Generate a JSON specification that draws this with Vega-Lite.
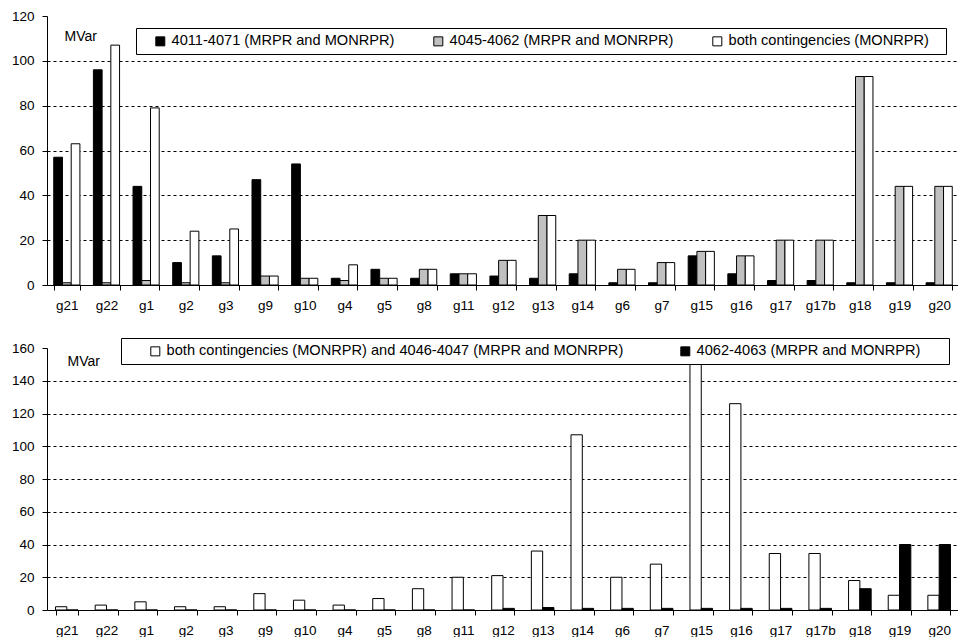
{
  "$schema": "https://vega.github.io/schema/vega-lite/v6.json",
  "padding": {"left": 11, "top": 9, "right": 0, "bottom": 0},
  "spacing": 25,
  "background": "#ffffff",
  "datasets": {
    "top": [
      {"g":"g21","s":"4011-4071 (MRPR and MONRPR)","v":57},{"g":"g21","s":"4045-4062 (MRPR and MONRPR)","v":1},{"g":"g21","s":"both contingencies (MONRPR)","v":63},
      {"g":"g22","s":"4011-4071 (MRPR and MONRPR)","v":96},{"g":"g22","s":"4045-4062 (MRPR and MONRPR)","v":1},{"g":"g22","s":"both contingencies (MONRPR)","v":107},
      {"g":"g1","s":"4011-4071 (MRPR and MONRPR)","v":44},{"g":"g1","s":"4045-4062 (MRPR and MONRPR)","v":2},{"g":"g1","s":"both contingencies (MONRPR)","v":79},
      {"g":"g2","s":"4011-4071 (MRPR and MONRPR)","v":10},{"g":"g2","s":"4045-4062 (MRPR and MONRPR)","v":1},{"g":"g2","s":"both contingencies (MONRPR)","v":24},
      {"g":"g3","s":"4011-4071 (MRPR and MONRPR)","v":13},{"g":"g3","s":"4045-4062 (MRPR and MONRPR)","v":1},{"g":"g3","s":"both contingencies (MONRPR)","v":25},
      {"g":"g9","s":"4011-4071 (MRPR and MONRPR)","v":47},{"g":"g9","s":"4045-4062 (MRPR and MONRPR)","v":4},{"g":"g9","s":"both contingencies (MONRPR)","v":4},
      {"g":"g10","s":"4011-4071 (MRPR and MONRPR)","v":54},{"g":"g10","s":"4045-4062 (MRPR and MONRPR)","v":3},{"g":"g10","s":"both contingencies (MONRPR)","v":3},
      {"g":"g4","s":"4011-4071 (MRPR and MONRPR)","v":3},{"g":"g4","s":"4045-4062 (MRPR and MONRPR)","v":2},{"g":"g4","s":"both contingencies (MONRPR)","v":9},
      {"g":"g5","s":"4011-4071 (MRPR and MONRPR)","v":7},{"g":"g5","s":"4045-4062 (MRPR and MONRPR)","v":3},{"g":"g5","s":"both contingencies (MONRPR)","v":3},
      {"g":"g8","s":"4011-4071 (MRPR and MONRPR)","v":3},{"g":"g8","s":"4045-4062 (MRPR and MONRPR)","v":7},{"g":"g8","s":"both contingencies (MONRPR)","v":7},
      {"g":"g11","s":"4011-4071 (MRPR and MONRPR)","v":5},{"g":"g11","s":"4045-4062 (MRPR and MONRPR)","v":5},{"g":"g11","s":"both contingencies (MONRPR)","v":5},
      {"g":"g12","s":"4011-4071 (MRPR and MONRPR)","v":4},{"g":"g12","s":"4045-4062 (MRPR and MONRPR)","v":11},{"g":"g12","s":"both contingencies (MONRPR)","v":11},
      {"g":"g13","s":"4011-4071 (MRPR and MONRPR)","v":3},{"g":"g13","s":"4045-4062 (MRPR and MONRPR)","v":31},{"g":"g13","s":"both contingencies (MONRPR)","v":31},
      {"g":"g14","s":"4011-4071 (MRPR and MONRPR)","v":5},{"g":"g14","s":"4045-4062 (MRPR and MONRPR)","v":20},{"g":"g14","s":"both contingencies (MONRPR)","v":20},
      {"g":"g6","s":"4011-4071 (MRPR and MONRPR)","v":1},{"g":"g6","s":"4045-4062 (MRPR and MONRPR)","v":7},{"g":"g6","s":"both contingencies (MONRPR)","v":7},
      {"g":"g7","s":"4011-4071 (MRPR and MONRPR)","v":1},{"g":"g7","s":"4045-4062 (MRPR and MONRPR)","v":10},{"g":"g7","s":"both contingencies (MONRPR)","v":10},
      {"g":"g15","s":"4011-4071 (MRPR and MONRPR)","v":13},{"g":"g15","s":"4045-4062 (MRPR and MONRPR)","v":15},{"g":"g15","s":"both contingencies (MONRPR)","v":15},
      {"g":"g16","s":"4011-4071 (MRPR and MONRPR)","v":5},{"g":"g16","s":"4045-4062 (MRPR and MONRPR)","v":13},{"g":"g16","s":"both contingencies (MONRPR)","v":13},
      {"g":"g17","s":"4011-4071 (MRPR and MONRPR)","v":2},{"g":"g17","s":"4045-4062 (MRPR and MONRPR)","v":20},{"g":"g17","s":"both contingencies (MONRPR)","v":20},
      {"g":"g17b","s":"4011-4071 (MRPR and MONRPR)","v":2},{"g":"g17b","s":"4045-4062 (MRPR and MONRPR)","v":20},{"g":"g17b","s":"both contingencies (MONRPR)","v":20},
      {"g":"g18","s":"4011-4071 (MRPR and MONRPR)","v":1},{"g":"g18","s":"4045-4062 (MRPR and MONRPR)","v":93},{"g":"g18","s":"both contingencies (MONRPR)","v":93},
      {"g":"g19","s":"4011-4071 (MRPR and MONRPR)","v":1},{"g":"g19","s":"4045-4062 (MRPR and MONRPR)","v":44},{"g":"g19","s":"both contingencies (MONRPR)","v":44},
      {"g":"g20","s":"4011-4071 (MRPR and MONRPR)","v":1},{"g":"g20","s":"4045-4062 (MRPR and MONRPR)","v":44},{"g":"g20","s":"both contingencies (MONRPR)","v":44}
    ],
    "bottom": [
      {"g":"g21","s":"both contingencies (MONRPR) and 4046-4047 (MRPR and MONRPR)","v":2},{"g":"g21","s":"4062-4063 (MRPR and MONRPR)","v":0},
      {"g":"g22","s":"both contingencies (MONRPR) and 4046-4047 (MRPR and MONRPR)","v":3},{"g":"g22","s":"4062-4063 (MRPR and MONRPR)","v":0},
      {"g":"g1","s":"both contingencies (MONRPR) and 4046-4047 (MRPR and MONRPR)","v":5},{"g":"g1","s":"4062-4063 (MRPR and MONRPR)","v":0},
      {"g":"g2","s":"both contingencies (MONRPR) and 4046-4047 (MRPR and MONRPR)","v":2},{"g":"g2","s":"4062-4063 (MRPR and MONRPR)","v":0},
      {"g":"g3","s":"both contingencies (MONRPR) and 4046-4047 (MRPR and MONRPR)","v":2},{"g":"g3","s":"4062-4063 (MRPR and MONRPR)","v":0},
      {"g":"g9","s":"both contingencies (MONRPR) and 4046-4047 (MRPR and MONRPR)","v":10},{"g":"g9","s":"4062-4063 (MRPR and MONRPR)","v":0},
      {"g":"g10","s":"both contingencies (MONRPR) and 4046-4047 (MRPR and MONRPR)","v":6},{"g":"g10","s":"4062-4063 (MRPR and MONRPR)","v":0},
      {"g":"g4","s":"both contingencies (MONRPR) and 4046-4047 (MRPR and MONRPR)","v":3},{"g":"g4","s":"4062-4063 (MRPR and MONRPR)","v":0},
      {"g":"g5","s":"both contingencies (MONRPR) and 4046-4047 (MRPR and MONRPR)","v":7},{"g":"g5","s":"4062-4063 (MRPR and MONRPR)","v":0},
      {"g":"g8","s":"both contingencies (MONRPR) and 4046-4047 (MRPR and MONRPR)","v":13},{"g":"g8","s":"4062-4063 (MRPR and MONRPR)","v":0},
      {"g":"g11","s":"both contingencies (MONRPR) and 4046-4047 (MRPR and MONRPR)","v":20},{"g":"g11","s":"4062-4063 (MRPR and MONRPR)","v":0},
      {"g":"g12","s":"both contingencies (MONRPR) and 4046-4047 (MRPR and MONRPR)","v":21},{"g":"g12","s":"4062-4063 (MRPR and MONRPR)","v":1},
      {"g":"g13","s":"both contingencies (MONRPR) and 4046-4047 (MRPR and MONRPR)","v":36},{"g":"g13","s":"4062-4063 (MRPR and MONRPR)","v":1.5},
      {"g":"g14","s":"both contingencies (MONRPR) and 4046-4047 (MRPR and MONRPR)","v":107},{"g":"g14","s":"4062-4063 (MRPR and MONRPR)","v":1},
      {"g":"g6","s":"both contingencies (MONRPR) and 4046-4047 (MRPR and MONRPR)","v":20},{"g":"g6","s":"4062-4063 (MRPR and MONRPR)","v":1},
      {"g":"g7","s":"both contingencies (MONRPR) and 4046-4047 (MRPR and MONRPR)","v":28},{"g":"g7","s":"4062-4063 (MRPR and MONRPR)","v":1},
      {"g":"g15","s":"both contingencies (MONRPR) and 4046-4047 (MRPR and MONRPR)","v":150},{"g":"g15","s":"4062-4063 (MRPR and MONRPR)","v":1},
      {"g":"g16","s":"both contingencies (MONRPR) and 4046-4047 (MRPR and MONRPR)","v":126},{"g":"g16","s":"4062-4063 (MRPR and MONRPR)","v":1},
      {"g":"g17","s":"both contingencies (MONRPR) and 4046-4047 (MRPR and MONRPR)","v":34.5},{"g":"g17","s":"4062-4063 (MRPR and MONRPR)","v":1},
      {"g":"g17b","s":"both contingencies (MONRPR) and 4046-4047 (MRPR and MONRPR)","v":34.5},{"g":"g17b","s":"4062-4063 (MRPR and MONRPR)","v":1},
      {"g":"g18","s":"both contingencies (MONRPR) and 4046-4047 (MRPR and MONRPR)","v":18},{"g":"g18","s":"4062-4063 (MRPR and MONRPR)","v":13},
      {"g":"g19","s":"both contingencies (MONRPR) and 4046-4047 (MRPR and MONRPR)","v":9},{"g":"g19","s":"4062-4063 (MRPR and MONRPR)","v":40},
      {"g":"g20","s":"both contingencies (MONRPR) and 4046-4047 (MRPR and MONRPR)","v":9},{"g":"g20","s":"4062-4063 (MRPR and MONRPR)","v":40}
    ]
  },
  "vconcat": [
    {
      "width": 912,
      "height": 269,
      "data": {"name": "top"},
      "mark": {"type": "bar", "stroke": "#000000", "strokeWidth": 1},
      "encoding": {
        "x": {"field": "g", "type": "nominal", "sort": null, "scale": {"paddingInner": 0.34, "paddingOuter": 0.17},
              "axis": {"title": null, "tickBand": "extent", "labelAngle": 0}},
        "xOffset": {"field": "s", "type": "nominal", "sort": ["4011-4071 (MRPR and MONRPR)", "4045-4062 (MRPR and MONRPR)", "both contingencies (MONRPR)"],
                    "scale": {"paddingInner": 0, "paddingOuter": 0}},
        "y": {"field": "v", "type": "quantitative", "scale": {"domain": [0, 120], "nice": false},
              "axis": {"title": "MVar", "values": [0, 20, 40, 60, 80, 100, 120], "grid": true,
                       "gridOpacity": {"condition": {"test": "datum.value == 0 || datum.value == 120", "value": 0}, "value": 1},
                       "titleAngle": 0, "titleAlign": "left", "titleBaseline": "middle", "titleX": 17, "titleY": 20}},
        "color": {"field": "s", "type": "nominal",
                  "scale": {"domain": ["4011-4071 (MRPR and MONRPR)", "4045-4062 (MRPR and MONRPR)", "both contingencies (MONRPR)"], "range": ["#000000", "#c0c0c0", "#ffffff"]},
                  "legend": {"orient": "none", "legendX": 89, "legendY": 12, "direction": "horizontal",
                             "title": " ", "titleOrient": "left", "titlePadding": 11,
                             "labelExpr": "datum.label + '\u2800'", "columnPadding": 25}}
      }
    },
    {
      "width": 912,
      "height": 262,
      "data": {"name": "bottom"},
      "mark": {"type": "bar", "stroke": "#000000", "strokeWidth": 1},
      "encoding": {
        "x": {"field": "g", "type": "nominal", "sort": null, "scale": {"paddingInner": 0.43, "paddingOuter": 0.215},
              "axis": {"title": null, "tickBand": "extent", "labelAngle": 0}},
        "xOffset": {"field": "s", "type": "nominal", "sort": ["both contingencies (MONRPR) and 4046-4047 (MRPR and MONRPR)", "4062-4063 (MRPR and MONRPR)"],
                    "scale": {"paddingInner": 0, "paddingOuter": 0}},
        "y": {"field": "v", "type": "quantitative", "scale": {"domain": [0, 160], "nice": false},
              "axis": {"title": "MVar", "values": [0, 20, 40, 60, 80, 100, 120, 140, 160], "grid": true,
                       "gridOpacity": {"condition": {"test": "datum.value == 0 || datum.value == 160", "value": 0}, "value": 1},
                       "titleAngle": 0, "titleAlign": "left", "titleBaseline": "middle", "titleX": 20, "titleY": 13}},
        "color": {"field": "s", "type": "nominal",
                  "scale": {"domain": ["both contingencies (MONRPR) and 4046-4047 (MRPR and MONRPR)", "4062-4063 (MRPR and MONRPR)"], "range": ["#ffffff", "#000000"]},
                  "legend": {"orient": "none", "legendX": 74, "legendY": -10, "direction": "horizontal",
                             "title": " ", "titleOrient": "left", "titlePadding": 21,
                             "labelExpr": "datum.label + '\u2800\u2800'", "columnPadding": 32}}
      }
    }
  ],
  "resolve": {"scale": {"color": "independent", "x": "independent", "y": "independent", "xOffset": "independent"}, "legend": {"color": "independent"}},
  "config": {
    "font": "Liberation Sans",
    "view": {"stroke": null},
    "axis": {
      "labelFont": "Liberation Sans", "labelFontSize": 13.5, "labelColor": "#000000",
      "titleFont": "Liberation Sans", "titleFontSize": 14, "titleFontWeight": "normal", "titleColor": "#000000",
      "domainColor": "#000000", "domainWidth": 1, "tickColor": "#000000", "tickSize": 5, "tickWidth": 1,
      "labelPadding": 8, "gridColor": "#000000", "gridDash": [3, 3], "gridWidth": 1
    },
    "legend": {
      "labelFont": "Liberation Sans", "labelFontSize": 14.6, "labelColor": "#000000",
      "titleFont": "Liberation Sans", "titleFontSize": 14.6,
      "padding": 6, "strokeColor": "#000000", "fillColor": "#ffffff",
      "symbolType": "square", "symbolSize": 81, "symbolStrokeColor": "#000000", "symbolStrokeWidth": 1,
      "labelOffset": 4, "labelLimit": 600
    }
  }
}
